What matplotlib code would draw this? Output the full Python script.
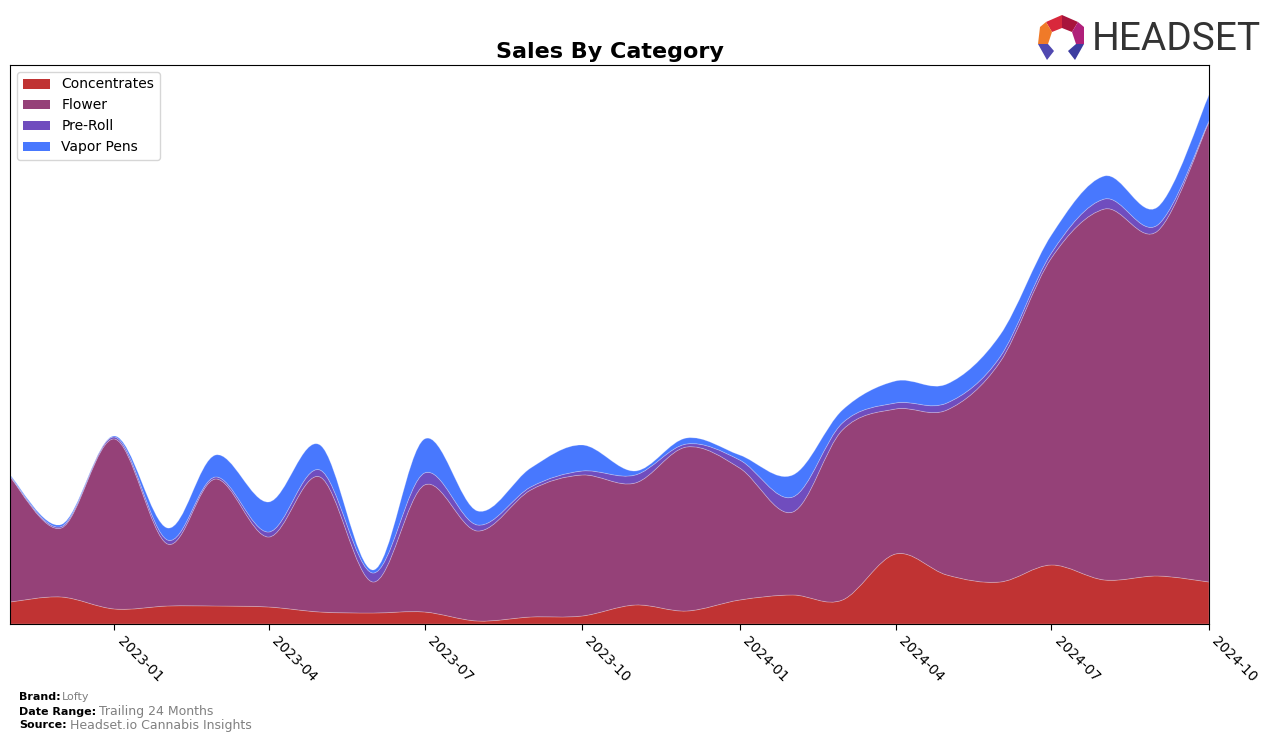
import numpy as np
import matplotlib
matplotlib.use("Agg")
import matplotlib.pyplot as plt
import matplotlib.dates as mdates
from matplotlib.path import Path
from matplotlib.patches import PathPatch, Polygon, Patch
from matplotlib import font_manager
import datetime as dt

# ---- data (monthly, arbitrary units) ----
months = ["2022-11", "2022-12", "2023-01", "2023-02", "2023-03", "2023-04",
          "2023-05", "2023-06", "2023-07", "2023-08", "2023-09", "2023-10",
          "2023-11", "2023-12", "2024-01", "2024-02", "2024-03", "2024-04",
          "2024-05", "2024-06", "2024-07", "2024-08", "2024-09", "2024-10"]
categories = ["Concentrates", "Flower", "Pre-Roll", "Vapor Pens"]
concentrates = [22, 27, 15, 18, 18, 17, 12, 11, 12, 3, 7, 8,
                19, 13, 24, 29, 24, 70, 49, 42, 59, 44, 48, 42]
flower = [125, 69, 170, 62, 127, 70, 135, 31, 127, 90, 127, 141,
          122, 164, 132, 83, 170, 145, 165, 220, 307, 371, 345, 460]
pre_roll = [1, 1.5, 2, 4, 2, 5, 7, 9, 12, 6, 3, 4,
            8, 3, 8, 15, 7, 6, 7, 5, 5, 10, 6, 1]
vapor_pens = [1, 2, 1, 12, 22, 30, 25, 3, 34, 14, 19, 26,
              4, 6, 5, 22, 13, 22, 19, 22, 18, 23, 18, 26]
colors = ["#c03333", "#954178", "#704dbe", "#4878fe"]
xtick_labels = ["2023-01", "2023-04", "2023-07", "2023-10",
                "2024-01", "2024-04", "2024-07", "2024-10"]

x = np.array([mdates.date2num(dt.datetime.strptime(m, "%Y-%m")) for m in months])
series = [np.array(s, float) for s in (concentrates, flower, pre_roll, vapor_pens)]
cum = np.cumsum(np.vstack(series), axis=0)


def bezier_segments(xs, ys):
    """Catmull-Rom control points -> list of (c1, c2, p2) for CURVE4."""
    n = len(xs)
    segs = []
    for i in range(n - 1):
        i0 = max(i - 1, 0)
        i3 = min(i + 2, n - 1)
        p0 = np.array([xs[i0], ys[i0]]); p1 = np.array([xs[i], ys[i]])
        p2 = np.array([xs[i + 1], ys[i + 1]]); p3 = np.array([xs[i3], ys[i3]])
        c1 = p1 + (p2 - p0) / 6.0
        c2 = p2 - (p3 - p1) / 6.0
        segs.append((c1, c2, p2))
    return segs


def band_path(xs, lo, hi):
    verts = [(xs[0], lo[0]), (xs[0], hi[0])]
    codes = [Path.MOVETO, Path.LINETO]
    for c1, c2, p in bezier_segments(xs, hi):
        verts += [tuple(c1), tuple(c2), tuple(p)]
        codes += [Path.CURVE4] * 3
    verts.append((xs[-1], lo[-1])); codes.append(Path.LINETO)
    rx = xs[::-1]; rl = lo[::-1]
    for c1, c2, p in bezier_segments(rx, rl):
        verts += [tuple(c1), tuple(c2), tuple(p)]
        codes += [Path.CURVE4] * 3
    verts.append((xs[0], lo[0])); codes.append(Path.CLOSEPOLY)
    return Path(verts, codes)


fig = plt.figure(figsize=(12.76, 7.42), dpi=100)
ax = fig.add_axes([10 / 1276, 1 - 624 / 742, 1199 / 1276, 559 / 742])

handles = []
for k in range(4):
    lo = cum[k - 1] if k > 0 else np.zeros_like(x)
    hi = cum[k]
    patch = PathPatch(band_path(x, lo, hi), facecolor=colors[k],
                      edgecolor=(1, 1, 1, 0.25), linewidth=0.6)
    ax.add_patch(patch)
    handles.append(Patch(facecolor=colors[k], label=categories[k]))

ax.set_xlim(x[0], x[-1])
ax.set_ylim(0, 559)
ax.set_yticks([])
ticks = [mdates.date2num(dt.datetime.strptime(t, "%Y-%m")) for t in xtick_labels]
ax.set_xticks(ticks)
ax.set_xticklabels(xtick_labels, rotation=-45, ha="left", va="top", fontsize=10)
ax.tick_params(axis="x", length=4, pad=3)
ax.set_title("Sales By Category", fontsize=16, fontweight="bold", pad=5)

ax.legend(handles=handles, loc="upper left", fontsize=10, frameon=True,
          borderaxespad=0.5, handlelength=2.0)

# footer
fig.text(19 / 1276, 1 - 697 / 742, "Brand:", fontsize=8, fontweight="bold", va="center")
fig.text(62 / 1276, 1 - 697 / 742, "Lofty", fontsize=8, color="gray", va="center")
fig.text(19 / 1276, 1 - 712 / 742, "Date Range:", fontsize=8, fontweight="bold", va="center")
fig.text(99 / 1276, 1 - 712 / 742, "Trailing 24 Months", fontsize=9, color="gray", va="center")
fig.text(19 / 1276, 1 - 725 / 742, "Source:", fontsize=8, fontweight="bold", va="center")
fig.text(70 / 1276, 1 - 725 / 742, "Headset.io Cannabis Insights", fontsize=9, color="gray", va="center")

# logo
names = {f.name for f in font_manager.fontManager.ttflist}
if "Liberation Sans Narrow" in names:
    logo_family, logo_size = "Liberation Sans Narrow", 33
else:
    logo_family, logo_size = "Roboto", 28
fig.text(1092 / 1276, 1 - 39 / 742, "HEADSET", fontsize=logo_size, color="#333333",
         va="center", ha="left", family=logo_family)


def fpoly(pts, c):
    p = Polygon([(px / 1276, 1 - py / 742) for px, py in pts], closed=True,
                facecolor=c, edgecolor="none", transform=fig.transFigure)
    fig.patches.append(p)


fpoly([(1046, 22), (1062, 15), (1062, 28), (1052, 32)], "#d8283c")
fpoly([(1062, 15), (1078, 22), (1072, 32), (1062, 28)], "#a8143c")
fpoly([(1040, 27), (1046, 22), (1052, 32), (1048, 44), (1038, 44)], "#f07a28")
fpoly([(1078, 22), (1084, 27), (1084, 44), (1076, 44), (1072, 32)], "#b0207a")
fpoly([(1038, 44), (1048, 44), (1054, 51), (1047, 60)], "#5048b0")
fpoly([(1076, 44), (1084, 44), (1075, 60), (1068, 51)], "#3c3ca0")

fig.savefig("out.png", dpi=100)
